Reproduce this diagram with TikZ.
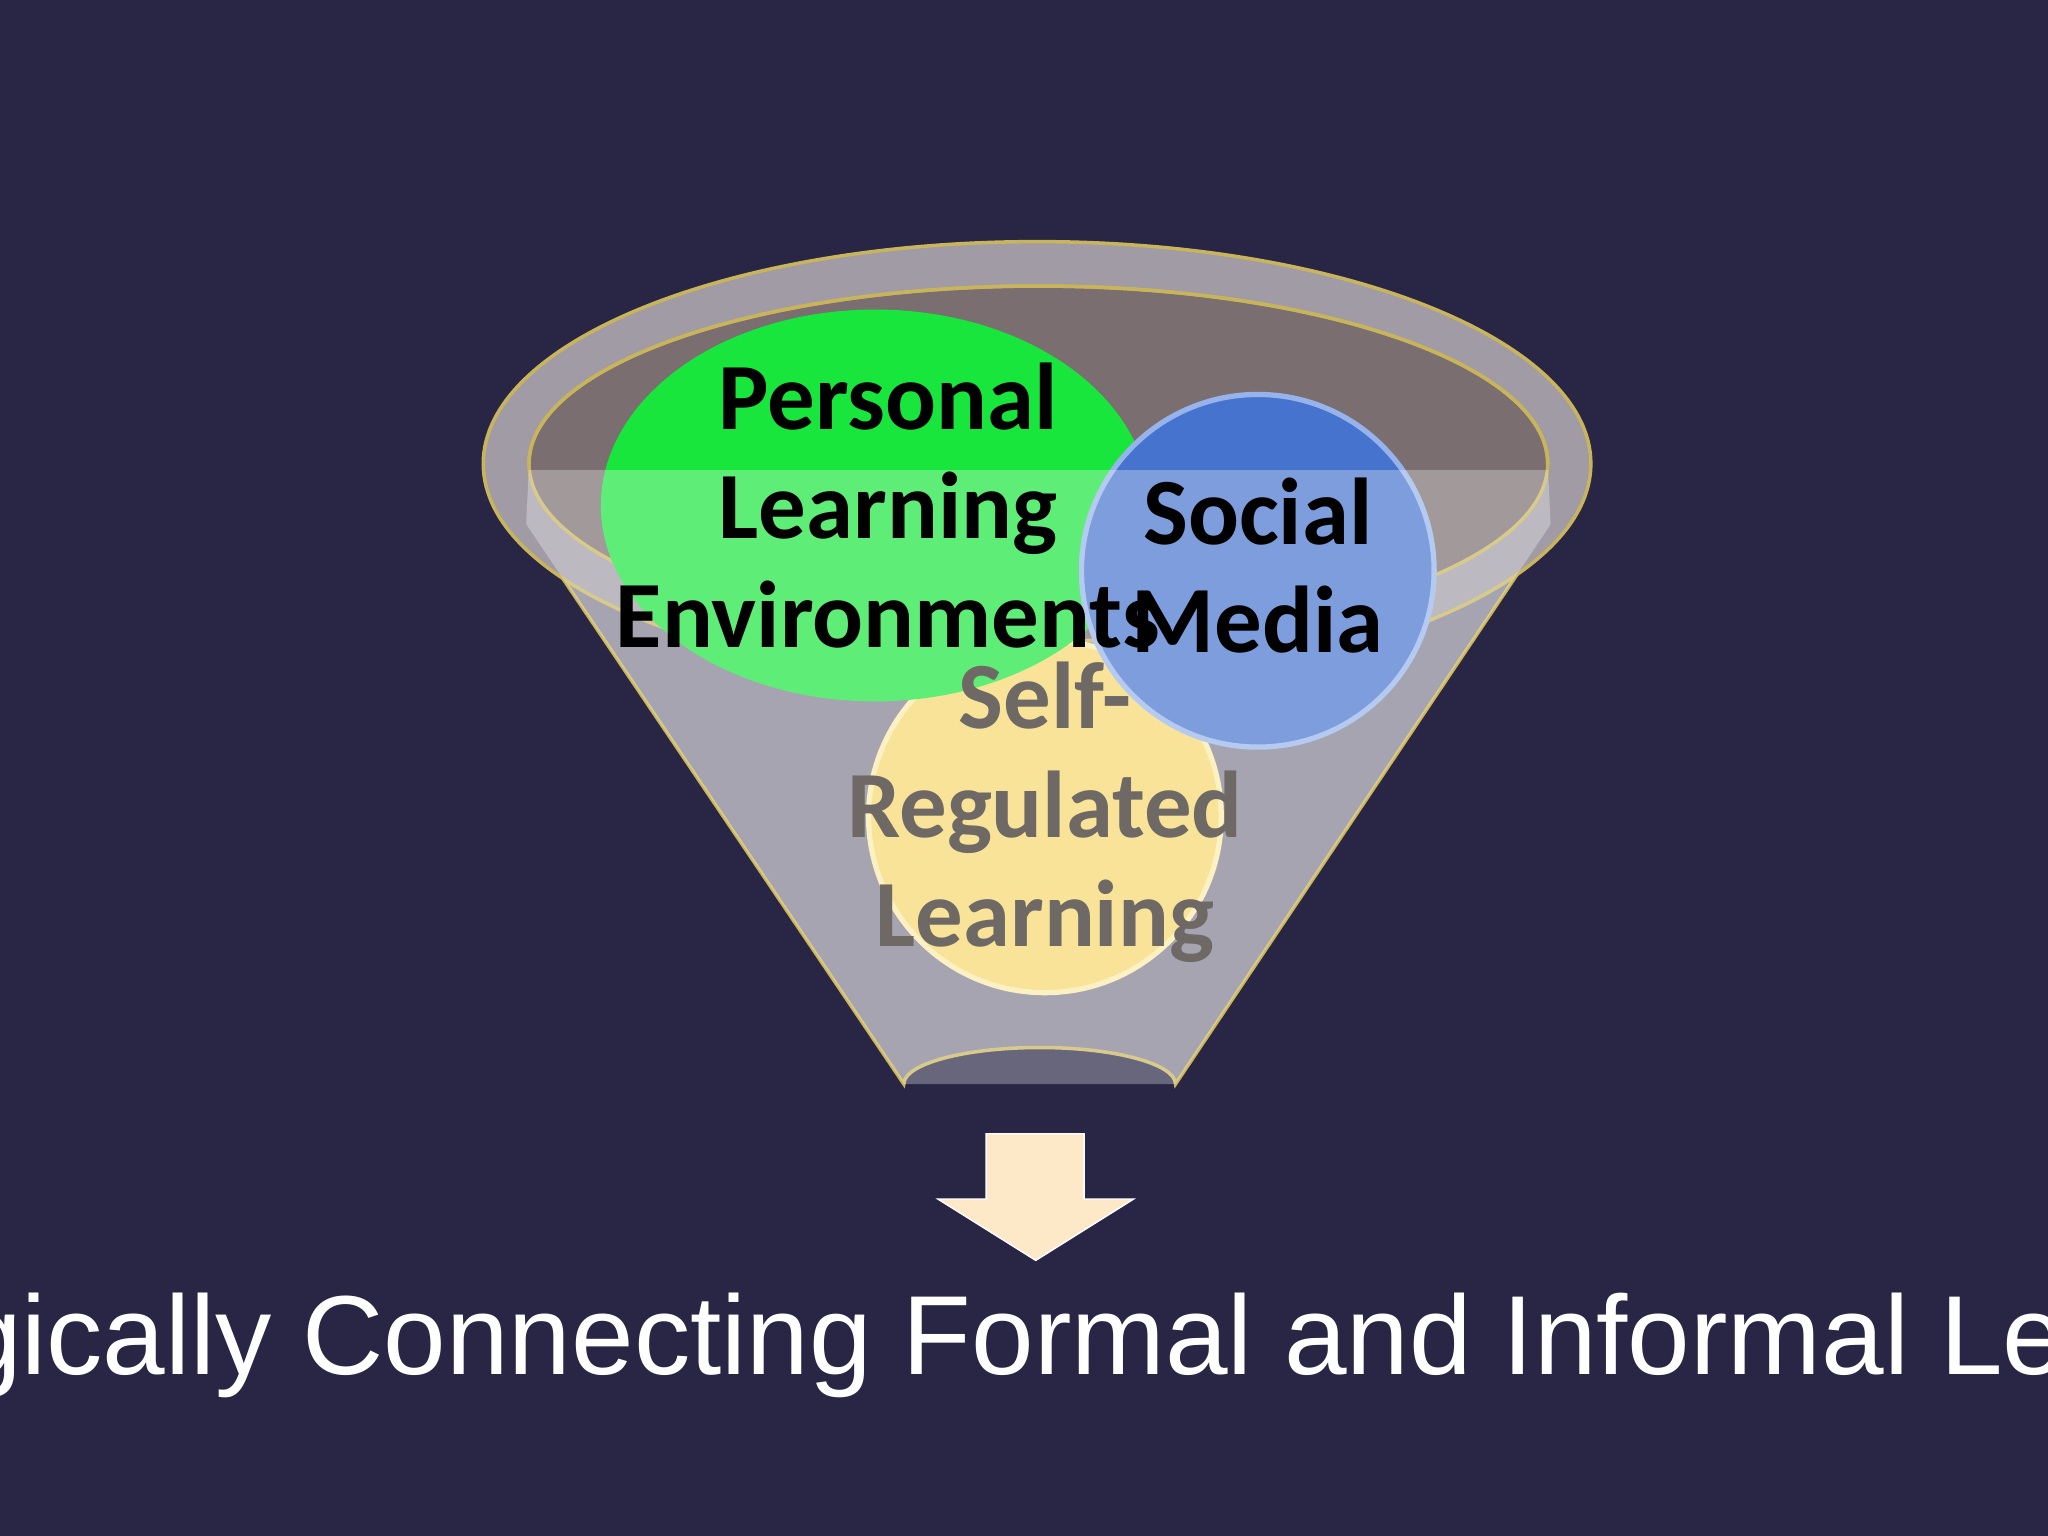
\documentclass[tikz,border=0pt]{standalone}
\usepackage{fontspec}
\setmainfont{Carlito}
\newfontfamily\arialf{Liberation Sans}
\definecolor{bg}{RGB}{40,37,69}
\definecolor{rimc}{RGB}{200,180,90}
\definecolor{conec}{RGB}{130,125,145}
\definecolor{outerc}{RGB}{160,155,165}
\definecolor{innerc}{RGB}{122,110,112}
\definecolor{yelc}{RGB}{245,215,110}
\definecolor{yeld}{RGB}{250,235,170}
\definecolor{grnc}{RGB}{25,230,60}
\definecolor{bluc}{RGB}{70,115,205}
\definecolor{blud}{RGB}{150,180,235}
\definecolor{srlt}{RGB}{110,105,100}
\definecolor{arrc}{RGB}{253,233,200}
\begin{document}
\begin{tikzpicture}[x=0.013061cm,y=-0.013061cm,
  lbl/.style={font=\bfseries\fontsize{27}{31}\selectfont,align=center},
  rim/.style={draw=rimc,line width=1pt}]
\fill[bg] (0,0) rectangle (1568,1176);
\useasboundingbox (0,0) rectangle (1568,1176);
% cone body
\filldraw[rim,fill=conec] (375,360) -- (692,830) arc[start angle=180,end angle=360,x radius=104,y radius=28] -- (1215,360) -- cycle;
% outer rim
\filldraw[rim,fill=outerc] (794,355) ellipse[x radius=424,y radius=170];
% inner
\filldraw[rim,fill=innerc] (795,355) ellipse[x radius=390,y radius=136];
% circles
\coordinate (srl) at (800,625);
\coordinate (ple) at (670,387);
\coordinate (sm) at (963,437);
\filldraw[fill=yelc,draw=yeld,line width=1.5pt] (srl) circle[radius=135];
\fill[grnc] (ple) ellipse[x radius=210,y radius=150];
\filldraw[fill=bluc,draw=blud,line width=1.5pt] (sm) circle[radius=135];
% front face lighten
\begin{scope}
\clip (375,360) -- (692,830) -- (900,830) -- (1215,360) -- cycle;
\fill[white,opacity=0.3] (405,355) arc[start angle=180,end angle=360,x radius=390,y radius=136] -- (1215,1000) -- (375,1000) -- cycle;
\end{scope}
\draw[rim] (405,355) arc[start angle=180,end angle=360,x radius=390,y radius=136];
\node[lbl] (plet) at (680,387) {Personal\\Learning\\Environments};
\node[lbl] (smt) at (963,433) {Social\\Media};
\node[lbl,text=srlt] (srlt) at (800,622) {Self-\\Regulated\\Learning};
% arrow
\filldraw[fill=arrc,draw=white] (755,868) -- (830,868) -- (830,918) -- (868,918) -- (793,965) -- (718,918) -- (755,918) -- cycle;
\node[font=\arialf\fontsize{32}{36}\selectfont,text=white] (cap) at (780,1030) {Strategically Connecting Formal and Informal Learning};
\end{tikzpicture}
\end{document}
